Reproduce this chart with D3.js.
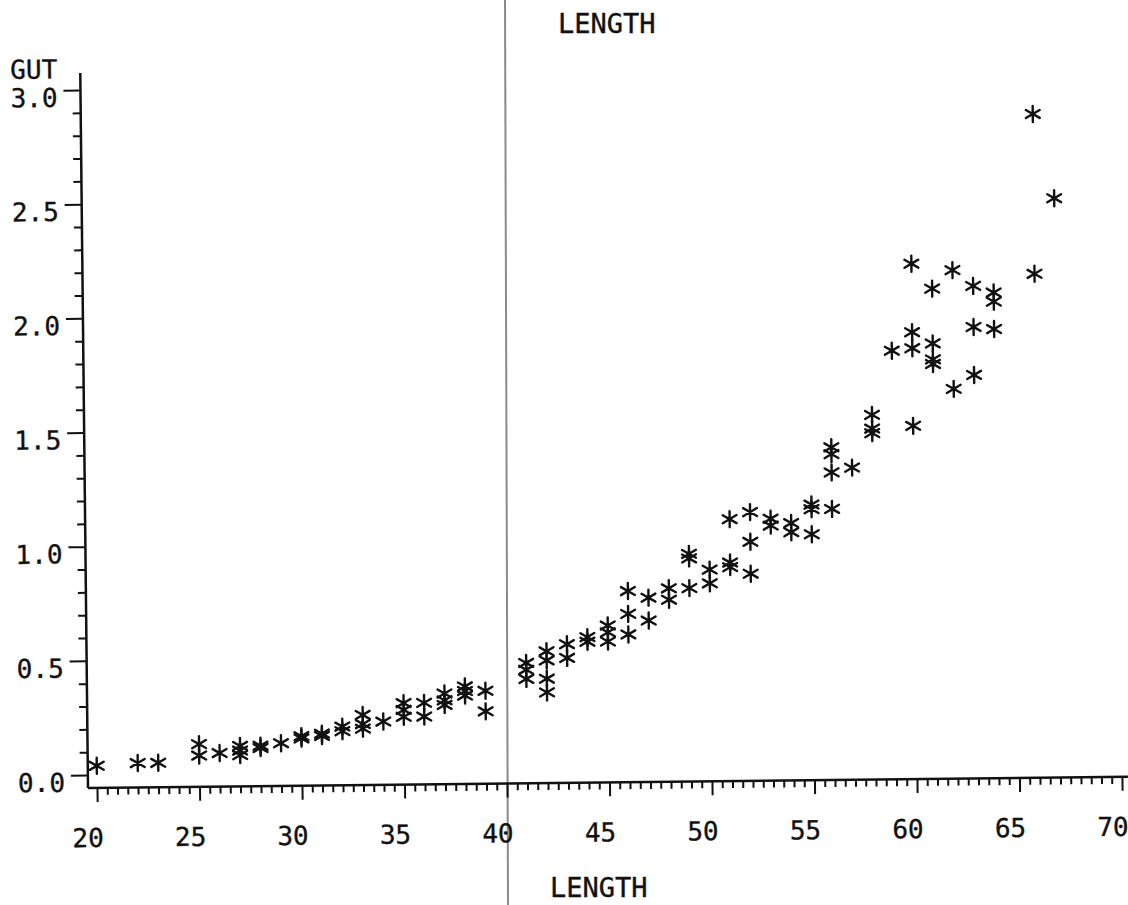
<!DOCTYPE html>
<html><head><meta charset="utf-8">
<script src="https://cdn.jsdelivr.net/npm/d3@7"></script>
<style>html,body{margin:0;padding:0;background:#fff;} svg{display:block;}</style>
</head><body>
<svg id="chart" width="1128" height="905"></svg>
<script>
// ---- data (LENGTH vs GUT) ----
const lengths = [
  20, 22, 23, 25, 25, 26, 27, 27, 27, 28, 28, 29, 30, 30, 31, 31, 32, 32,
  33, 33, 33, 34, 35, 35, 35, 36, 36, 37, 37, 37, 38, 38, 38, 39, 39,
  41, 41, 41, 42, 42, 42, 42, 43, 43, 44, 44, 45, 45, 45, 46, 46, 46,
  47, 47, 48, 48, 49, 49, 49, 50, 50, 51, 51, 51, 52, 52, 52, 53, 53,
  54, 54, 55, 55, 55, 56, 56, 56, 56, 57, 58, 58, 58, 59,
  60, 60, 60, 60, 61, 61, 61, 61, 62, 62, 63, 63, 63, 64, 64, 64, 66, 66, 67
];
const guts = [
  0.04, 0.05, 0.05, 0.13, 0.08, 0.09, 0.12, 0.10, 0.08, 0.12, 0.11, 0.13, 0.16, 0.15, 0.17, 0.16, 0.20, 0.18,
  0.25, 0.21, 0.19, 0.22, 0.30, 0.27, 0.24, 0.30, 0.24, 0.34, 0.31, 0.29, 0.37, 0.35, 0.33, 0.35, 0.26,
  0.47, 0.44, 0.40, 0.52, 0.48, 0.40, 0.34, 0.55, 0.49, 0.58, 0.56, 0.63, 0.60, 0.56, 0.78, 0.68, 0.59,
  0.75, 0.65, 0.79, 0.74, 0.94, 0.92, 0.79, 0.87, 0.81, 1.09, 0.90, 0.88, 1.12, 0.99, 0.85, 1.09, 1.06,
  1.07, 1.03, 1.15, 1.13, 1.02, 1.40, 1.37, 1.29, 1.13, 1.31, 1.54, 1.48, 1.46, 1.82,
  2.20, 1.90, 1.83, 1.49, 2.09, 1.85, 1.78, 1.76, 2.17, 1.65, 2.10, 1.92, 1.71, 2.07, 2.03, 1.91, 2.85, 2.15, 2.48
];
const xTicks = [20, 25, 30, 35, 40, 45, 50, 55, 60, 65, 70];
const yTicks = [0, 0.5, 1.0, 1.5, 2.0, 2.5, 3.0];
const xTitle = "LENGTH";
const yTitle = "GUT";

const W = 1128, H = 905;
const FONT = "'DejaVu Sans Mono', 'Liberation Mono', monospace";
const svg = d3.select("#chart");
svg.append("rect").attr("width", W).attr("height", H).attr("fill", "#fff");

function inkText(sel) {
  return sel.attr("font-family", FONT).attr("fill", "#111")
    .attr("stroke", "#111").attr("stroke-width", 0.35);
}

// scan seam line
svg.append("line").attr("x1", 505).attr("y1", 0).attr("x2", 508).attr("y2", H)
  .attr("stroke", "#8a8a8a").attr("stroke-width", 2);

// page-level titles
inkText(svg.append("text").attr("x", 558).attr("y", 33).text(xTitle).attr("font-size", 27));
inkText(svg.append("text").attr("x", 550).attr("y", 897).text(xTitle).attr("font-size", 27));

// plot group (scan slightly rotated)
const g = svg.append("g").attr("transform", "rotate(-0.62,88,788)");
const x = d3.scaleLinear().domain([20, 70]).range([97, 1122]);
const y = d3.scaleLinear().domain([0, 3]).range([775, 90]);
const axX = 88, axY = 788;

// x axis
const xMinor = d3.range(20, 70.01, 0.5).filter(v => v % 5 !== 0);
const xa = g.append("g").attr("transform", `translate(0,${axY})`);
xa.call(d3.axisBottom(x).tickValues(xMinor).tickSize(7).tickFormat(""));
xa.select(".domain").remove();
const xa2 = g.append("g").attr("transform", `translate(0,${axY})`);
xa2.call(d3.axisBottom(x).tickValues(xTicks).tickSize(14).tickFormat(d3.format("d")));
xa2.select(".domain").remove();
inkText(xa2.selectAll("text").attr("y", 59).attr("dy", 0).attr("dx", -10).attr("font-size", 26));
g.append("line").attr("x1", axX).attr("x2", 1128).attr("y1", axY).attr("y2", axY)
  .attr("stroke", "#111").attr("stroke-width", 2.5);

// y axis
const yMinor = d3.range(0, 30.01, 1).map(v => v / 10).filter(v => Math.round(v * 10) % 5 !== 0);
const ya = g.append("g").attr("transform", `translate(${axX},0)`);
ya.call(d3.axisLeft(y).tickValues(yMinor).tickSize(8).tickFormat(""));
ya.select(".domain").remove();
const ya2 = g.append("g").attr("transform", `translate(${axX},0)`);
ya2.call(d3.axisLeft(y).tickValues(yTicks).tickSize(17).tickFormat(d3.format(".1f")));
ya2.select(".domain").remove();
inkText(ya2.selectAll("text").attr("x", -23).attr("dy", 16).attr("text-anchor", "end").attr("font-size", 26));
g.selectAll(".tick line").attr("stroke", "#111").attr("stroke-width", 2);
g.append("line").attr("x1", axX).attr("x2", axX).attr("y1", axY).attr("y2", 73)
  .attr("stroke", "#111").attr("stroke-width", 2.5);

inkText(g.append("text").attr("x", 18).attr("y", 78).text(yTitle).attr("font-size", 26));

// asterisk markers
function starPath(cx, cy, r) {
  const p = d3.path();
  p.moveTo(cx, cy - r); p.lineTo(cx, cy + r);
  const c = Math.cos(Math.PI / 6) * r, s = Math.sin(Math.PI / 6) * r;
  p.moveTo(cx - c, cy - s); p.lineTo(cx + c, cy + s);
  p.moveTo(cx - c, cy + s); p.lineTo(cx + c, cy - s);
  return p.toString();
}
const pts = lengths.map((L, i) => ({ L, G: guts[i] }));
g.append("g").selectAll("path").data(pts).join("path")
  .attr("d", d => starPath(x(d.L), y(d.G), 8))
  .attr("fill", "none").attr("stroke", "#111").attr("stroke-width", 2.4)
  .attr("stroke-linecap", "round");
</script>
</body></html>
